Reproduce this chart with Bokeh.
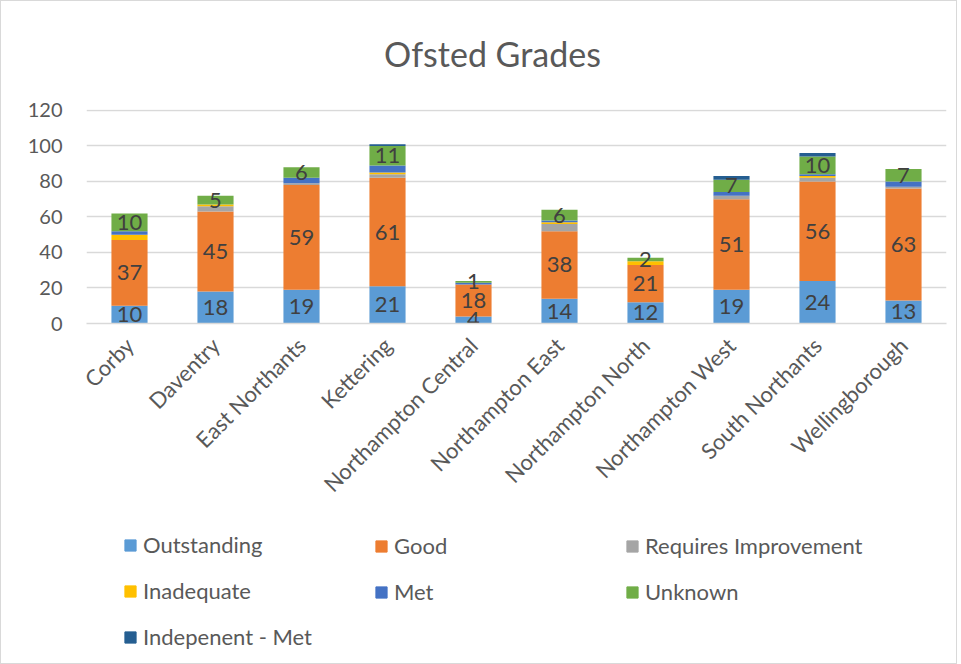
from bokeh.plotting import figure
from bokeh.layouts import column
from bokeh.models import (ColumnDataSource, Range1d, FactorRange, Legend, LegendItem,
                          SingleIntervalTicker, Label)
from bokeh.core.properties import value
from bokeh.embed import file_html
from bokeh.resources import INLINE
import math

categories = ["Corby", "Daventry", "East Northants", "Kettering", "Northampton Central",
              "Northampton East", "Northampton North", "Northampton West", "South Northants",
              "Wellingborough"]
outstanding = [10, 18, 19, 21, 4, 14, 12, 19, 24, 13]
good = [37, 45, 59, 61, 18, 38, 21, 51, 56, 63]
requires_improvement = [0, 3, 1, 2, 0, 4, 0, 2, 2, 1]
inadequate = [3, 1, 0, 1, 0, 1, 2, 0, 1, 0]
met = [2, 0, 3, 4, 1, 1, 0, 2, 1, 3]
unknown = [10, 5, 6, 11, 1, 6, 2, 7, 10, 7]
independent_met = [0, 0, 0, 1, 0, 0, 0, 2, 2, 0]

series_names = ["Outstanding", "Good", "Requires Improvement", "Inadequate", "Met",
                "Unknown", "Indepenent - Met"]
series_values = [outstanding, good, requires_improvement, inadequate, met, unknown,
                 independent_met]
colors = ["#5B9BD5", "#ED7D31", "#A5A5A5", "#FFC000", "#4472C4", "#70AD47", "#255E91"]
labelled = {"Outstanding", "Good", "Unknown"}
title_text = "Ofsted Grades"

FONT = "Lato"
TXT = "#595959"

keys = ["s%d" % i for i in range(len(series_names))]
data = {"cat": categories}
for k, v in zip(keys, series_values):
    data[k] = v
src = ColumnDataSource(data)

# title strip
tf = figure(width=955, height=90, min_border=0, output_backend="svg",
            toolbar_location=None, x_range=Range1d(0, 1), y_range=Range1d(0, 1))
tf.axis.visible = False
tf.grid.grid_line_color = None
tf.outline_line_color = None
tf.add_layout(Label(x=406, y=38, x_units="screen", y_units="screen", text=title_text,
                    text_align="center", text_baseline="middle", text_font=FONT,
                    text_font_size="34px", text_color=TXT))

p = figure(x_range=FactorRange(*categories), y_range=Range1d(0, 120.5),
           frame_width=860, frame_height=214,
           min_border_left=85, min_border_right=10, min_border_top=18, min_border_bottom=206,
           output_backend="svg", toolbar_location=None)

renderers = p.vbar_stack(keys, x="cat", width=0.42, color=colors, source=src, line_color=None)

# data labels
lx, ly, lt = [], [], []
cum = [0] * len(categories)
for name, vals in zip(series_names, series_values):
    for i, v in enumerate(vals):
        if name in labelled and v > 0:
            lx.append(categories[i])
            ly.append(cum[i] + v / 2)
            lt.append(str(v))
        cum[i] += v
p.text(x=lx, y=ly, text=lt, text_align="center", text_baseline="middle",
       text_font=value(FONT), text_font_size="22px", text_color="#404040")

p.outline_line_color = None
p.xgrid.grid_line_color = None
p.ygrid.grid_line_color = "#d9d9d9"
p.ygrid.grid_line_width = 1.5
p.yaxis.ticker = SingleIntervalTicker(interval=20)
p.yaxis.axis_line_color = None
p.yaxis.major_tick_line_color = None
p.yaxis.minor_tick_line_color = None
p.yaxis.major_label_standoff = 18
p.xaxis.axis_line_color = "#d9d9d9"
p.xaxis.axis_line_width = 1.5
p.xaxis.major_tick_line_color = None
p.xaxis.major_label_orientation = math.pi / 4
p.xaxis.major_label_standoff = 12
p.yaxis.major_label_text_font_size = "20px"
p.xaxis.major_label_text_font_size = "22px"
for ax in (p.xaxis, p.yaxis):
    ax.major_label_text_font = FONT
    ax.major_label_text_color = TXT

# legend in its own strip below the chart (three columns)
lg = figure(width=955, height=134, min_border=0, output_backend="svg",
            toolbar_location=None, x_range=Range1d(0, 1), y_range=Range1d(0, 1))
lg.axis.visible = False
lg.grid.grid_line_color = None
lg.outline_line_color = None
nan = float("nan")
swatches = [lg.rect(x=[nan], y=[nan], width=1, height=1, color=c) for c in colors]
legend_items = [LegendItem(label=n, renderers=[r]) for n, r in zip(series_names, swatches)]
columns_idx = [[0, 3, 6], [1, 4], [2, 5]]
col_x = [37, 288, 539]
for idx, x in zip(columns_idx, col_x):
    h = len(idx) * 26 + (len(idx) - 1) * 19
    leg = Legend(items=[legend_items[i] for i in idx], location=(x, 129 - h),
                 margin=0, padding=0, glyph_width=14, glyph_height=14,
                 label_height=26, label_standoff=6, spacing=19,
                 border_line_color=None, background_fill_alpha=0,
                 label_text_font=FONT, label_text_font_size="22px",
                 label_text_color=TXT)
    lg.add_layout(leg, "center")

layout = column(tf, p, lg, spacing=0, styles={"border": "1px solid #d9d9d9"})

open("out.html", "w").write(file_html(layout, INLINE))
